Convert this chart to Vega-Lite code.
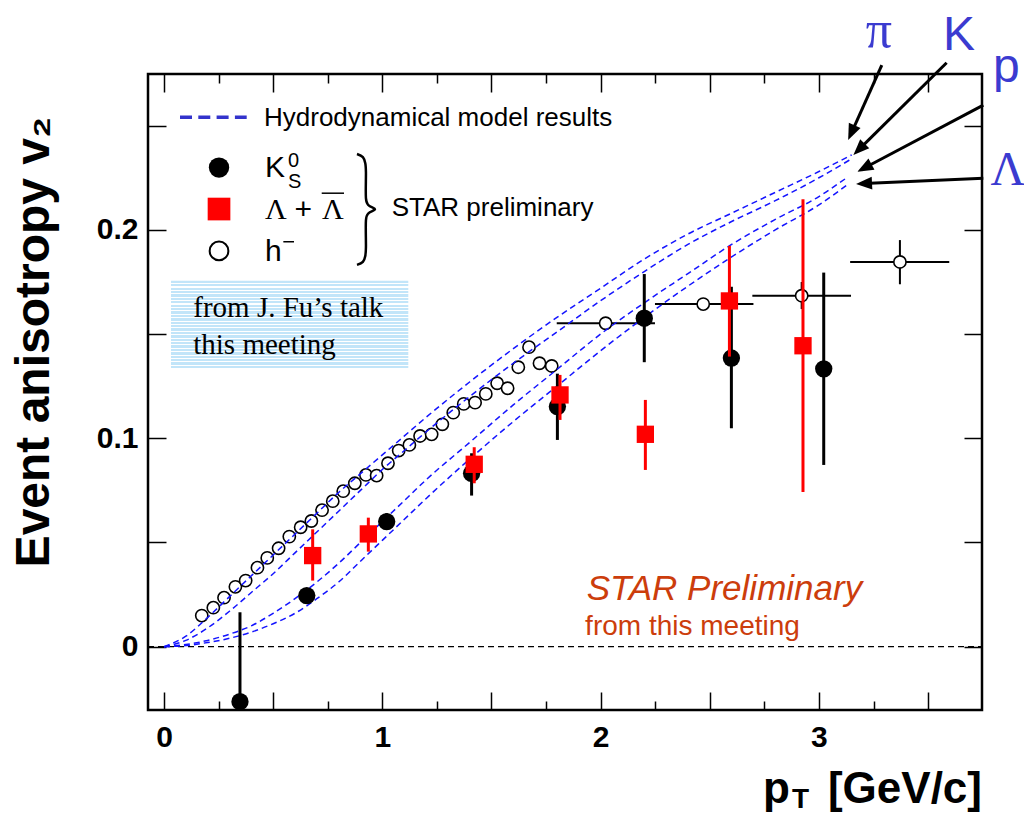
{
  "$schema": "https://vega.github.io/schema/vega-lite/v6.json",
  "width": 834,
  "height": 636,
  "autosize": {"type": "none"},
  "padding": {"left": 148, "top": 74, "right": 42, "bottom": 105},
  "background": "white",
  "config": {
    "view": {"stroke": "black", "strokeWidth": 2.5},
    "font": "Liberation Sans"
  },
  "datasets": {
    "hydro": [
      {"curve": "pi", "pT": 0, "v2": 0}, {"curve": "pi", "pT": 0.1, "v2": 0.005}, {"curve": "pi", "pT": 0.2, "v2": 0.014}, {"curve": "pi", "pT": 0.3, "v2": 0.024}, {"curve": "pi", "pT": 0.4, "v2": 0.034}, {"curve": "pi", "pT": 0.5, "v2": 0.044}, {"curve": "pi", "pT": 0.6, "v2": 0.054}, {"curve": "pi", "pT": 0.7, "v2": 0.064}, {"curve": "pi", "pT": 0.8, "v2": 0.074}, {"curve": "pi", "pT": 0.9, "v2": 0.083}, {"curve": "pi", "pT": 1.0, "v2": 0.092}, {"curve": "pi", "pT": 1.1, "v2": 0.101}, {"curve": "pi", "pT": 1.2, "v2": 0.110}, {"curve": "pi", "pT": 1.4, "v2": 0.127}, {"curve": "pi", "pT": 1.6, "v2": 0.143}, {"curve": "pi", "pT": 1.8, "v2": 0.158}, {"curve": "pi", "pT": 2.0, "v2": 0.172}, {"curve": "pi", "pT": 2.2, "v2": 0.186}, {"curve": "pi", "pT": 2.4, "v2": 0.198}, {"curve": "pi", "pT": 2.6, "v2": 0.208}, {"curve": "pi", "pT": 2.8, "v2": 0.218}, {"curve": "pi", "pT": 3.0, "v2": 0.228}, {"curve": "pi", "pT": 3.15, "v2": 0.236},
      {"curve": "K", "pT": 0, "v2": 0}, {"curve": "K", "pT": 0.1, "v2": 0.003}, {"curve": "K", "pT": 0.2, "v2": 0.009}, {"curve": "K", "pT": 0.3, "v2": 0.017}, {"curve": "K", "pT": 0.4, "v2": 0.026}, {"curve": "K", "pT": 0.5, "v2": 0.035}, {"curve": "K", "pT": 0.6, "v2": 0.045}, {"curve": "K", "pT": 0.7, "v2": 0.055}, {"curve": "K", "pT": 0.8, "v2": 0.065}, {"curve": "K", "pT": 0.9, "v2": 0.075}, {"curve": "K", "pT": 1.0, "v2": 0.085}, {"curve": "K", "pT": 1.1, "v2": 0.094}, {"curve": "K", "pT": 1.2, "v2": 0.103}, {"curve": "K", "pT": 1.4, "v2": 0.120}, {"curve": "K", "pT": 1.6, "v2": 0.136}, {"curve": "K", "pT": 1.8, "v2": 0.151}, {"curve": "K", "pT": 2.0, "v2": 0.166}, {"curve": "K", "pT": 2.2, "v2": 0.180}, {"curve": "K", "pT": 2.4, "v2": 0.193}, {"curve": "K", "pT": 2.6, "v2": 0.204}, {"curve": "K", "pT": 2.8, "v2": 0.214}, {"curve": "K", "pT": 3.0, "v2": 0.225}, {"curve": "K", "pT": 3.14, "v2": 0.2335},
      {"curve": "p", "pT": 0, "v2": 0}, {"curve": "p", "pT": 0.1, "v2": 0.001}, {"curve": "p", "pT": 0.2, "v2": 0.003}, {"curve": "p", "pT": 0.3, "v2": 0.006}, {"curve": "p", "pT": 0.4, "v2": 0.010}, {"curve": "p", "pT": 0.5, "v2": 0.016}, {"curve": "p", "pT": 0.6, "v2": 0.023}, {"curve": "p", "pT": 0.7, "v2": 0.031}, {"curve": "p", "pT": 0.8, "v2": 0.040}, {"curve": "p", "pT": 0.9, "v2": 0.050}, {"curve": "p", "pT": 1.0, "v2": 0.060}, {"curve": "p", "pT": 1.1, "v2": 0.070}, {"curve": "p", "pT": 1.2, "v2": 0.080}, {"curve": "p", "pT": 1.4, "v2": 0.098}, {"curve": "p", "pT": 1.6, "v2": 0.116}, {"curve": "p", "pT": 1.8, "v2": 0.133}, {"curve": "p", "pT": 2.0, "v2": 0.150}, {"curve": "p", "pT": 2.2, "v2": 0.165}, {"curve": "p", "pT": 2.4, "v2": 0.179}, {"curve": "p", "pT": 2.6, "v2": 0.193}, {"curve": "p", "pT": 2.8, "v2": 0.205}, {"curve": "p", "pT": 3.0, "v2": 0.216}, {"curve": "p", "pT": 3.13, "v2": 0.2252},
      {"curve": "L", "pT": 0, "v2": 0}, {"curve": "L", "pT": 0.1, "v2": 0.0005}, {"curve": "L", "pT": 0.2, "v2": 0.002}, {"curve": "L", "pT": 0.3, "v2": 0.004}, {"curve": "L", "pT": 0.4, "v2": 0.007}, {"curve": "L", "pT": 0.5, "v2": 0.011}, {"curve": "L", "pT": 0.6, "v2": 0.016}, {"curve": "L", "pT": 0.7, "v2": 0.023}, {"curve": "L", "pT": 0.8, "v2": 0.031}, {"curve": "L", "pT": 0.9, "v2": 0.041}, {"curve": "L", "pT": 1.0, "v2": 0.051}, {"curve": "L", "pT": 1.1, "v2": 0.061}, {"curve": "L", "pT": 1.2, "v2": 0.071}, {"curve": "L", "pT": 1.4, "v2": 0.090}, {"curve": "L", "pT": 1.6, "v2": 0.108}, {"curve": "L", "pT": 1.8, "v2": 0.125}, {"curve": "L", "pT": 2.0, "v2": 0.142}, {"curve": "L", "pT": 2.2, "v2": 0.158}, {"curve": "L", "pT": 2.4, "v2": 0.173}, {"curve": "L", "pT": 2.6, "v2": 0.187}, {"curve": "L", "pT": 2.8, "v2": 0.200}, {"curve": "L", "pT": 3.0, "v2": 0.212}, {"curve": "L", "pT": 3.135, "v2": 0.222}
    ],
    "k0s": [
      {"pT": 0.348, "v2": -0.0264, "lo": -0.070, "hi": 0.0165},
      {"pT": 0.654, "v2": 0.0245, "lo": 0.021, "hi": 0.028},
      {"pT": 1.020, "v2": 0.0600, "lo": 0.056, "hi": 0.064},
      {"pT": 1.409, "v2": 0.0832, "lo": 0.0725, "hi": 0.0928},
      {"pT": 1.802, "v2": 0.1152, "lo": 0.0992, "hi": 0.131},
      {"pT": 2.200, "v2": 0.1576, "lo": 0.1365, "hi": 0.1788},
      {"pT": 2.599, "v2": 0.1385, "lo": 0.1048, "hi": 0.1727},
      {"pT": 3.022, "v2": 0.1333, "lo": 0.0872, "hi": 0.1795}
    ],
    "lam": [
      {"pT": 0.681, "v2": 0.0437, "lo": 0.0317, "hi": 0.0563},
      {"pT": 0.936, "v2": 0.0541, "lo": 0.0456, "hi": 0.0619},
      {"pT": 1.421, "v2": 0.0875, "lo": 0.0784, "hi": 0.0957},
      {"pT": 1.814, "v2": 0.1208, "lo": 0.1088, "hi": 0.1304},
      {"pT": 2.205, "v2": 0.1019, "lo": 0.0848, "hi": 0.1184},
      {"pT": 2.590, "v2": 0.1659, "lo": 0.1392, "hi": 0.1923},
      {"pT": 2.927, "v2": 0.1444, "lo": 0.0742, "hi": 0.2147}
    ],
    "hm": [
      {"pT": 0.173, "v2": 0.0149}, {"pT": 0.226, "v2": 0.0187}, {"pT": 0.275, "v2": 0.0235}, {"pT": 0.327, "v2": 0.0287}, {"pT": 0.374, "v2": 0.0317}, {"pT": 0.428, "v2": 0.0379}, {"pT": 0.473, "v2": 0.0426}, {"pT": 0.525, "v2": 0.0472}, {"pT": 0.574, "v2": 0.0528}, {"pT": 0.626, "v2": 0.0573}, {"pT": 0.675, "v2": 0.0603}, {"pT": 0.724, "v2": 0.0655}, {"pT": 0.773, "v2": 0.0698}, {"pT": 0.821, "v2": 0.0746}, {"pT": 0.874, "v2": 0.0784}, {"pT": 0.925, "v2": 0.0824}, {"pT": 0.974, "v2": 0.0821}, {"pT": 1.026, "v2": 0.0880}, {"pT": 1.075, "v2": 0.0941}, {"pT": 1.124, "v2": 0.0968}, {"pT": 1.173, "v2": 0.1011}, {"pT": 1.226, "v2": 0.1019}, {"pT": 1.275, "v2": 0.1067}, {"pT": 1.325, "v2": 0.1123}, {"pT": 1.373, "v2": 0.1165}, {"pT": 1.425, "v2": 0.1171}, {"pT": 1.474, "v2": 0.1213}, {"pT": 1.526, "v2": 0.1264}, {"pT": 1.574, "v2": 0.1240}, {"pT": 1.623, "v2": 0.1341}, {"pT": 1.672, "v2": 0.1437}, {"pT": 1.720, "v2": 0.1360}, {"pT": 1.776, "v2": 0.1347},
      {"pT": 2.023, "v2": 0.1552, "xlo": 1.799, "xhi": 2.249},
      {"pT": 2.470, "v2": 0.1644, "xlo": 2.249, "xhi": 2.700},
      {"pT": 2.921, "v2": 0.1684, "xlo": 2.695, "xhi": 3.147},
      {"pT": 3.371, "v2": 0.1846, "xlo": 3.143, "xhi": 3.597}
    ],
    "herr": [
      {"pT": 2.921, "lo": 0.162, "hi": 0.175},
      {"pT": 3.371, "lo": 0.1739, "hi": 0.1951}
    ]
  },
  "encoding": {
    "x": {"field": "pT", "type": "quantitative", "scale": {"domain": [-0.0733, 3.747], "nice": false, "zero": false}, "axis": null},
    "y": {"field": "v2", "type": "quantitative", "scale": {"domain": [-0.0304, 0.2748], "nice": false, "zero": false}, "axis": null}
  },
  "resolve": {"axis": {"x": "independent", "y": "independent"}},
  "layer": [
    {
      "data": {"values": [{"pT": -0.0733, "pT2": 3.747, "v2": 0}]},
      "mark": {"type": "rule", "color": "black", "strokeWidth": 1.2, "strokeDash": [6, 4]},
      "encoding": {
        "x2": {"field": "pT2"},
        "y": {"field": "v2", "type": "quantitative", "scale": {"domain": [-0.0304, 0.2748], "nice": false, "zero": false},
          "axis": {"orient": "left", "values": [0, 0.1, 0.2], "format": "~g", "domain": false, "ticks": false, "grid": false, "labelFont": "Liberation Sans", "labelFontWeight": "bold", "labelFontSize": 30, "labelColor": "black", "labelPadding": 10, "labelFlush": false, "labelOverlap": false, "title": null}}
      }
    },
    {
      "data": {"name": "hm"},
      "transform": [{"filter": "datum.xlo != null"}],
      "mark": {"type": "rule", "color": "black", "strokeWidth": 2, "clip": true},
      "encoding": {
        "x": {"field": "xlo", "type": "quantitative", "scale": {"domain": [-0.0733, 3.747], "nice": false, "zero": false},
          "axis": {"orient": "bottom", "values": [0, 1, 2, 3], "format": "~g", "domain": false, "ticks": false, "grid": false, "labelFont": "Liberation Sans", "labelFontWeight": "bold", "labelFontSize": 30, "labelColor": "black", "labelPadding": 12, "labelFlush": false, "labelOverlap": false, "title": null}},
        "x2": {"field": "xhi"}
      }
    },
    {
      "data": {"name": "herr"},
      "mark": {"type": "rule", "color": "black", "strokeWidth": 2, "clip": true},
      "encoding": {
        "x": {"field": "pT", "type": "quantitative", "scale": {"domain": [-0.0733, 3.747], "nice": false, "zero": false},
          "axis": {"orient": "bottom", "values": [0, 0.5, 1, 1.5, 2, 2.5, 3, 3.5], "domain": false, "labels": false, "grid": false, "ticks": true, "tickSize": -18, "tickWidth": 1.5, "tickColor": "black", "title": null}},
        "y": {"field": "lo", "type": "quantitative", "scale": {"domain": [-0.0304, 0.2748], "nice": false, "zero": false},
          "axis": {"orient": "left", "values": [0, 0.05, 0.1, 0.15, 0.2, 0.25], "domain": false, "labels": false, "grid": false, "ticks": true, "tickSize": -18, "tickWidth": 1.5, "tickColor": "black", "title": null}},
        "y2": {"field": "hi"}
      }
    },
    {
      "data": {"name": "hm"},
      "mark": {"type": "point", "shape": "circle", "filled": true, "fill": "white", "stroke": "black", "strokeWidth": 1.6, "size": 150, "opacity": 1, "clip": true},
      "encoding": {
        "x": {"field": "pT", "type": "quantitative", "scale": {"domain": [-0.0733, 3.747], "nice": false, "zero": false},
          "axis": {"orient": "bottom", "values": [0.25, 0.75, 1.25, 1.75, 2.25, 2.75, 3.25], "domain": false, "labels": false, "grid": false, "ticks": true, "tickSize": -9, "tickWidth": 1.5, "tickColor": "black", "title": null}},
        "y": {"field": "v2", "type": "quantitative", "scale": {"domain": [-0.0304, 0.2748], "nice": false, "zero": false},
          "axis": {"orient": "right", "values": [0, 0.05, 0.1, 0.15, 0.2, 0.25], "domain": false, "labels": false, "grid": false, "ticks": true, "tickSize": -18, "tickWidth": 1.5, "tickColor": "black", "title": null}}
      }
    },
    {
      "data": {"name": "hydro"},
      "mark": {"type": "line", "color": "#1414ff", "strokeWidth": 1.5, "strokeDash": [6, 4], "interpolate": "monotone", "clip": true},
      "encoding": {
        "x": {"field": "pT", "type": "quantitative", "scale": {"domain": [-0.0733, 3.747], "nice": false, "zero": false},
          "axis": {"orient": "top", "values": [0, 0.5, 1, 1.5, 2, 2.5, 3, 3.5], "domain": false, "labels": false, "grid": false, "ticks": true, "tickSize": -18, "tickWidth": 1.5, "tickColor": "black", "title": null}},
        "detail": {"field": "curve"},
        "order": {"field": "pT"}
      }
    },
    {
      "data": {"name": "k0s"},
      "mark": {"type": "rule", "color": "black", "strokeWidth": 3, "clip": true},
      "encoding": {
        "x": {"field": "pT", "type": "quantitative", "scale": {"domain": [-0.0733, 3.747], "nice": false, "zero": false},
          "axis": {"orient": "top", "values": [0.25, 0.75, 1.25, 1.75, 2.25, 2.75, 3.25], "domain": false, "labels": false, "grid": false, "ticks": true, "tickSize": -9, "tickWidth": 1.5, "tickColor": "black", "title": null}},
        "y": {"field": "lo", "type": "quantitative", "scale": {"domain": [-0.0304, 0.2748], "nice": false, "zero": false}, "axis": null},
        "y2": {"field": "hi"}
      }
    },
    {
      "data": {"name": "k0s"},
      "mark": {"type": "point", "shape": "circle", "filled": true, "color": "black", "size": 300, "opacity": 1, "clip": true}
    },
    {
      "data": {"name": "lam"},
      "mark": {"type": "rule", "color": "#ff0000", "strokeWidth": 3, "clip": true},
      "encoding": {
        "y": {"field": "lo", "type": "quantitative", "scale": {"domain": [-0.0304, 0.2748], "nice": false, "zero": false}, "axis": null},
        "y2": {"field": "hi"}
      }
    },
    {
      "data": {"name": "lam"},
      "mark": {"type": "point", "shape": "square", "filled": true, "color": "#ff0000", "size": 300, "opacity": 1, "clip": true}
    },
    {
      "data": {"values": [{"pT": 0.0733, "pT2": 0.3788, "v2": 0.254}]},
      "mark": {"type": "rule", "color": "#3333cc", "strokeWidth": 3.5, "strokeDash": [12, 6.3]},
      "encoding": {"x2": {"field": "pT2"}}
    },
    {
      "data": {"values": [{"pT": 0.252, "v2": 0.2299}]},
      "mark": {"type": "point", "shape": "circle", "filled": true, "color": "black", "size": 415, "opacity": 1}
    },
    {
      "data": {"values": [{"pT": 0.252, "v2": 0.210}]},
      "mark": {"type": "point", "shape": "square", "filled": true, "color": "#ff0000", "size": 515, "opacity": 1}
    },
    {
      "data": {"values": [{"pT": 0.252, "v2": 0.1899}]},
      "mark": {"type": "point", "shape": "circle", "filled": true, "fill": "white", "stroke": "black", "strokeWidth": 2, "size": 350, "opacity": 1}
    },
    {
      "data": {"values": [{"pT": 0.4627, "v2": 0.2297, "t": "K"}, {"pT": 0.4627, "v2": 0.1895, "t": "h"}]},
      "mark": {"type": "text", "font": "Liberation Sans", "fontSize": 30, "align": "left", "baseline": "middle", "color": "black"},
      "encoding": {"text": {"field": "t"}}
    },
    {
      "data": {"values": [{"pT": 0.5680, "v2": 0.2330, "t": "0"}, {"pT": 0.5680, "v2": 0.2232, "t": "S"}]},
      "mark": {"type": "text", "font": "Liberation Sans", "fontSize": 20, "align": "left", "baseline": "middle", "color": "black"},
      "encoding": {"text": {"field": "t"}}
    },
    {
      "data": {"values": [{"pT": 0.4627, "v2": 0.2096, "t": "Λ"}, {"pT": 0.7238, "v2": 0.2096, "t": "Λ"}]},
      "mark": {"type": "text", "font": "Liberation Serif", "fontSize": 30, "align": "left", "baseline": "middle", "color": "black"},
      "encoding": {"text": {"field": "t"}}
    },
    {
      "data": {"values": [{"pT": 0.638, "v2": 0.2096, "t": "+"}]},
      "mark": {"type": "text", "font": "Liberation Sans", "fontSize": 30, "align": "center", "baseline": "middle", "color": "black"},
      "encoding": {"text": {"field": "t"}}
    },
    {
      "data": {"values": [{"pT": 0.7224, "pT2": 0.8246, "v2": 0.2176}, {"pT": 0.5466, "pT2": 0.5955, "v2": 0.1943}]},
      "mark": {"type": "rule", "color": "black", "strokeWidth": 1.5},
      "encoding": {"x2": {"field": "pT2"}}
    },
    {
      "data": {"values": [
        {"i": 1, "pT": 0.884, "v2": 0.2364}, {"i": 2, "pT": 0.911, "v2": 0.2349}, {"i": 3, "pT": 0.922, "v2": 0.2320}, {"i": 4, "pT": 0.925, "v2": 0.2277},
        {"i": 5, "pT": 0.925, "v2": 0.2152}, {"i": 6, "pT": 0.937, "v2": 0.2118}, {"i": 7, "pT": 0.9666, "v2": 0.2099}, {"i": 8, "pT": 0.937, "v2": 0.2080},
        {"i": 9, "pT": 0.925, "v2": 0.2046}, {"i": 10, "pT": 0.925, "v2": 0.1918}, {"i": 11, "pT": 0.922, "v2": 0.1875}, {"i": 12, "pT": 0.911, "v2": 0.1846}, {"i": 13, "pT": 0.884, "v2": 0.1832}
      ]},
      "mark": {"type": "line", "color": "black", "strokeWidth": 2.5, "interpolate": "cardinal"},
      "encoding": {"order": {"field": "i"}}
    },
    {
      "data": {"values": [{"pT": 0.458, "v2": 0.2535, "t": "Hydrodynamical model results"}, {"pT": 1.043, "v2": 0.2104, "t": "STAR preliminary"}]},
      "mark": {"type": "text", "font": "Liberation Sans", "fontSize": 26, "align": "left", "baseline": "middle", "color": "black"},
      "encoding": {"text": {"field": "t"}}
    },
    {
      "data": {"values": [{"pT": 0.032, "pT2": 1.119, "v2": 0.1756, "v22": 0.1331}]},
      "mark": {"type": "rect", "stroke": null, "fill": {"gradient": "linear", "x1": 0, "y1": 0, "x2": 0, "y2": 1, "stops": [
        {"offset": 0, "color": "#c2e5f9"}, {"offset": 0.0262, "color": "#c2e5f9"}, {"offset": 0.0262, "color": "#ffffff"}, {"offset": 0.0385, "color": "#ffffff"},
        {"offset": 0.0385, "color": "#c2e5f9"}, {"offset": 0.0646, "color": "#c2e5f9"}, {"offset": 0.0646, "color": "#ffffff"}, {"offset": 0.0769, "color": "#ffffff"},
        {"offset": 0.0769, "color": "#c2e5f9"}, {"offset": 0.1031, "color": "#c2e5f9"}, {"offset": 0.1031, "color": "#ffffff"}, {"offset": 0.1154, "color": "#ffffff"},
        {"offset": 0.1154, "color": "#c2e5f9"}, {"offset": 0.1415, "color": "#c2e5f9"}, {"offset": 0.1415, "color": "#ffffff"}, {"offset": 0.1538, "color": "#ffffff"},
        {"offset": 0.1538, "color": "#c2e5f9"}, {"offset": 0.1800, "color": "#c2e5f9"}, {"offset": 0.1800, "color": "#ffffff"}, {"offset": 0.1923, "color": "#ffffff"},
        {"offset": 0.1923, "color": "#c2e5f9"}, {"offset": 0.2185, "color": "#c2e5f9"}, {"offset": 0.2185, "color": "#ffffff"}, {"offset": 0.2308, "color": "#ffffff"},
        {"offset": 0.2308, "color": "#c2e5f9"}, {"offset": 0.2569, "color": "#c2e5f9"}, {"offset": 0.2569, "color": "#ffffff"}, {"offset": 0.2692, "color": "#ffffff"},
        {"offset": 0.2692, "color": "#c2e5f9"}, {"offset": 0.2954, "color": "#c2e5f9"}, {"offset": 0.2954, "color": "#ffffff"}, {"offset": 0.3077, "color": "#ffffff"},
        {"offset": 0.3077, "color": "#c2e5f9"}, {"offset": 0.3338, "color": "#c2e5f9"}, {"offset": 0.3338, "color": "#ffffff"}, {"offset": 0.3462, "color": "#ffffff"},
        {"offset": 0.3462, "color": "#c2e5f9"}, {"offset": 0.3723, "color": "#c2e5f9"}, {"offset": 0.3723, "color": "#ffffff"}, {"offset": 0.3846, "color": "#ffffff"},
        {"offset": 0.3846, "color": "#c2e5f9"}, {"offset": 0.4108, "color": "#c2e5f9"}, {"offset": 0.4108, "color": "#ffffff"}, {"offset": 0.4231, "color": "#ffffff"},
        {"offset": 0.4231, "color": "#c2e5f9"}, {"offset": 0.4492, "color": "#c2e5f9"}, {"offset": 0.4492, "color": "#ffffff"}, {"offset": 0.4615, "color": "#ffffff"},
        {"offset": 0.4615, "color": "#c2e5f9"}, {"offset": 0.4877, "color": "#c2e5f9"}, {"offset": 0.4877, "color": "#ffffff"}, {"offset": 0.5, "color": "#ffffff"},
        {"offset": 0.5, "color": "#c2e5f9"}, {"offset": 0.5262, "color": "#c2e5f9"}, {"offset": 0.5262, "color": "#ffffff"}, {"offset": 0.5385, "color": "#ffffff"},
        {"offset": 0.5385, "color": "#c2e5f9"}, {"offset": 0.5646, "color": "#c2e5f9"}, {"offset": 0.5646, "color": "#ffffff"}, {"offset": 0.5769, "color": "#ffffff"},
        {"offset": 0.5769, "color": "#c2e5f9"}, {"offset": 0.6031, "color": "#c2e5f9"}, {"offset": 0.6031, "color": "#ffffff"}, {"offset": 0.6154, "color": "#ffffff"},
        {"offset": 0.6154, "color": "#c2e5f9"}, {"offset": 0.6415, "color": "#c2e5f9"}, {"offset": 0.6415, "color": "#ffffff"}, {"offset": 0.6538, "color": "#ffffff"},
        {"offset": 0.6538, "color": "#c2e5f9"}, {"offset": 0.6800, "color": "#c2e5f9"}, {"offset": 0.6800, "color": "#ffffff"}, {"offset": 0.6923, "color": "#ffffff"},
        {"offset": 0.6923, "color": "#c2e5f9"}, {"offset": 0.7185, "color": "#c2e5f9"}, {"offset": 0.7185, "color": "#ffffff"}, {"offset": 0.7308, "color": "#ffffff"},
        {"offset": 0.7308, "color": "#c2e5f9"}, {"offset": 0.7569, "color": "#c2e5f9"}, {"offset": 0.7569, "color": "#ffffff"}, {"offset": 0.7692, "color": "#ffffff"},
        {"offset": 0.7692, "color": "#c2e5f9"}, {"offset": 0.7954, "color": "#c2e5f9"}, {"offset": 0.7954, "color": "#ffffff"}, {"offset": 0.8077, "color": "#ffffff"},
        {"offset": 0.8077, "color": "#c2e5f9"}, {"offset": 0.8338, "color": "#c2e5f9"}, {"offset": 0.8338, "color": "#ffffff"}, {"offset": 0.8462, "color": "#ffffff"},
        {"offset": 0.8462, "color": "#c2e5f9"}, {"offset": 0.8723, "color": "#c2e5f9"}, {"offset": 0.8723, "color": "#ffffff"}, {"offset": 0.8846, "color": "#ffffff"},
        {"offset": 0.8846, "color": "#c2e5f9"}, {"offset": 0.9108, "color": "#c2e5f9"}, {"offset": 0.9108, "color": "#ffffff"}, {"offset": 0.9231, "color": "#ffffff"},
        {"offset": 0.9231, "color": "#c2e5f9"}, {"offset": 0.9492, "color": "#c2e5f9"}, {"offset": 0.9492, "color": "#ffffff"}, {"offset": 0.9615, "color": "#ffffff"},
        {"offset": 0.9615, "color": "#c2e5f9"}, {"offset": 0.9877, "color": "#c2e5f9"}, {"offset": 0.9877, "color": "#ffffff"}, {"offset": 1, "color": "#ffffff"}
      ]}},
      "encoding": {"x2": {"field": "pT2"}, "y2": {"field": "v22"}}
    },
    {
      "data": {"values": [{"pT": 0.134, "v2": 0.1624, "t": "from J. Fu’s talk"}, {"pT": 0.134, "v2": 0.1448, "t": "this meeting"}]},
      "mark": {"type": "text", "font": "Liberation Serif", "fontSize": 29, "align": "left", "baseline": "middle", "color": "black"},
      "encoding": {"text": {"field": "t"}}
    },
    {
      "data": {"values": [{"pT": 1.936, "v2": 0.0277, "t": "STAR Preliminary"}]},
      "mark": {"type": "text", "font": "Liberation Sans", "fontStyle": "italic", "fontSize": 35, "align": "left", "baseline": "middle", "color": "#cc3d0c"},
      "encoding": {"text": {"field": "t"}}
    },
    {
      "data": {"values": [{"pT": 1.929, "v2": 0.0056, "t": "from this meeting"}]},
      "mark": {"type": "text", "font": "Liberation Sans", "fontSize": 28, "align": "left", "baseline": "alphabetic", "color": "#cc3d0c"},
      "encoding": {"text": {"field": "t"}}
    },
    {
      "data": {"values": [{"pT": 3.275, "v2": 0.2877, "t": "π"}]},
      "mark": {"type": "text", "font": "Liberation Serif", "fontSize": 52, "align": "center", "baseline": "alphabetic", "color": "#3b3bd0"},
      "encoding": {"text": {"field": "t"}}
    },
    {
      "data": {"values": [{"pT": 3.866, "v2": 0.2216, "t": "Λ"}]},
      "mark": {"type": "text", "font": "Liberation Serif", "fontSize": 48, "align": "center", "baseline": "alphabetic", "color": "#3b3bd0"},
      "encoding": {"text": {"field": "t"}}
    },
    {
      "data": {"values": [{"pT": 3.642, "v2": 0.2863, "t": "K"}, {"pT": 3.859, "v2": 0.2710, "t": "p"}]},
      "mark": {"type": "text", "font": "Liberation Sans", "fontSize": 48, "align": "center", "baseline": "alphabetic", "color": "#3b3bd0"},
      "encoding": {"text": {"field": "t"}}
    },
    {
      "data": {"values": [
        {"pT": 3.288, "v2": 0.2791, "pT2": 3.149, "v22": 0.2466},
        {"pT": 3.585, "v2": 0.2802, "pT2": 3.184, "v22": 0.2386},
        {"pT": 3.753, "v2": 0.2599, "pT2": 3.208, "v22": 0.2297},
        {"pT": 3.753, "v2": 0.2248, "pT2": 3.207, "v22": 0.2222}
      ]},
      "mark": {"type": "rule", "color": "black", "strokeWidth": 3},
      "encoding": {"x2": {"field": "pT2"}, "y2": {"field": "v22"}}
    },
    {
      "data": {"values": [{"pT": 3.134, "v2": 0.2431}]},
      "mark": {"type": "point", "shape": "M0,0L-0.4,1L0.4,1Z", "filled": true, "color": "black", "size": 1024, "angle": 204, "opacity": 1}
    },
    {
      "data": {"values": [{"pT": 3.158, "v2": 0.2359}]},
      "mark": {"type": "point", "shape": "M0,0L-0.4,1L0.4,1Z", "filled": true, "color": "black", "size": 1024, "angle": 225, "opacity": 1}
    },
    {
      "data": {"values": [{"pT": 3.176, "v2": 0.2279}]},
      "mark": {"type": "point", "shape": "M0,0L-0.4,1L0.4,1Z", "filled": true, "color": "black", "size": 1024, "angle": 242, "opacity": 1}
    },
    {
      "data": {"values": [{"pT": 3.170, "v2": 0.2220}]},
      "mark": {"type": "point", "shape": "M0,0L-0.4,1L0.4,1Z", "filled": true, "color": "black", "size": 1024, "angle": 267, "opacity": 1}
    },
    {
      "data": {"values": [{"pT": -0.591, "v2": 0.1462, "t": "Event anisotropy  v₂"}]},
      "mark": {"type": "text", "font": "Liberation Sans", "fontWeight": "bold", "fontSize": 48, "align": "center", "baseline": "middle", "angle": 270, "color": "black"},
      "encoding": {"text": {"field": "t"}}
    },
    {
      "data": {"values": [{"pT": 2.744, "v2": -0.0750, "t": "p"}]},
      "mark": {"type": "text", "font": "Liberation Sans", "fontWeight": "bold", "fontSize": 44, "align": "left", "baseline": "alphabetic", "color": "black"},
      "encoding": {"text": {"field": "t"}}
    },
    {
      "data": {"values": [{"pT": 3.747, "v2": -0.0750, "t": "[GeV/c]"}]},
      "mark": {"type": "text", "font": "Liberation Sans", "fontWeight": "bold", "fontSize": 44, "align": "right", "baseline": "alphabetic", "color": "black"},
      "encoding": {"text": {"field": "t"}}
    },
    {
      "data": {"values": [{"pT": 2.877, "v2": -0.0774, "t": "T"}]},
      "mark": {"type": "text", "font": "Liberation Sans", "fontWeight": "bold", "fontSize": 28, "align": "left", "baseline": "alphabetic", "color": "black"},
      "encoding": {"text": {"field": "t"}}
    }
  ]
}
